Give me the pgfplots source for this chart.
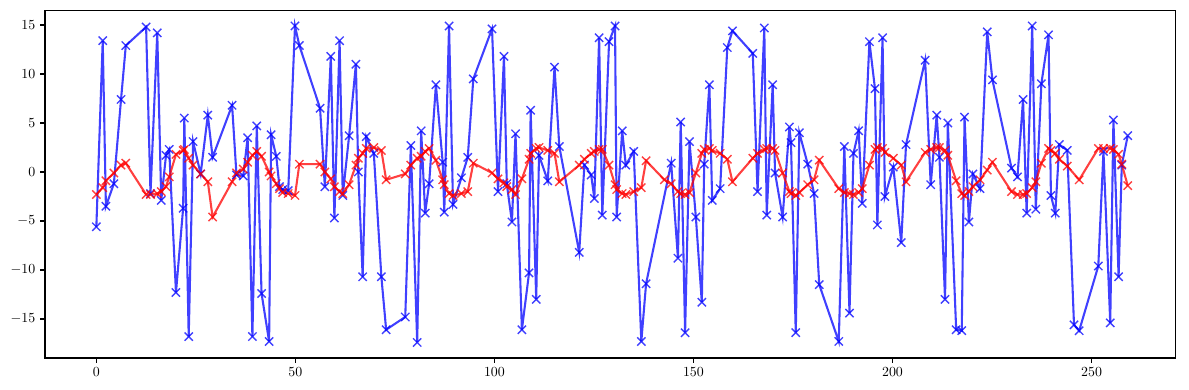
\documentclass[border=0pt]{standalone}
\usepackage{pgfplots}
\pgfplotsset{compat=1.18}
\begin{document}
\begin{tikzpicture}
\useasboundingbox (-32.4pt,-23pt) rectangle (823.6pt,257.7pt);
\begin{axis}[
  at={(0,0)}, anchor=south west,
  scale only axis, width=813.6pt, height=250pt,
  xmin=-12.9, xmax=271, ymin=-18.98, ymax=16.46,
  xtick={0,50,100,150,200,250},
  ytick={-15,-10,-5,0,5,10,15},
  tick align=outside, xtick pos=bottom, ytick pos=left,
  major tick length=3.5pt,
  every tick/.style={black, line width=0.8pt},
  axis line style={line width=0.8pt},
  tick label style={font=\fontsize{10}{12}\selectfont},
]
\addplot[color=blue, opacity=0.75, line width=1.5pt, mark=x, mark size=4.2pt, mark options={line width=1pt}] coordinates {
(0,-5.6) (1.6,13.4) (2.4,-3.5) (4.4,-1.2) (6.2,7.4) (7.4,12.9) (12.5,14.8) (13.6,-2.2) (15.3,14.2) (16.3,-2.9)
(17.5,1.7) (18.3,2.3) (20.0,-12.3) (21.8,-3.7) (22.1,5.5) (23.2,-16.8) (24.3,3.1) (26.2,-0.2) (28.0,5.8) (29.2,1.5)
(34.1,6.8) (35.2,-0.3) (36.9,-0.4) (38.0,3.5) (39.2,-16.8) (40.3,4.7) (41.5,-12.4) (43.4,-17.3) (43.9,3.8) (45.2,1.6)
(46.0,-1.5) (46.8,-1.8) (48.2,-1.9) (49.9,14.9) (51.0,12.9) (56.2,6.5) (57.4,-1.5) (58.9,11.8) (59.8,-4.7) (61.1,13.4)
(61.9,-2.4) (63.5,3.7) (65.2,11.0) (65.8,0.0) (66.9,-10.7) (67.8,3.6) (69.7,1.9) (71.6,-10.7) (72.8,-16.1) (77.6,-14.8)
(79.0,2.7) (80.6,-17.4) (81.6,4.2) (82.6,-4.2) (83.6,-1.2) (85.3,8.9) (87.0,1.0) (87.4,-4.1) (88.6,14.9) (89.6,-3.3)
(91.7,-0.6) (93.3,1.5) (94.7,9.5) (99.4,14.6) (100.9,-2.0) (102.4,11.8) (103.1,-1.2) (104.4,-5.1) (105.3,3.9) (106.9,-16.1)
(108.7,-10.3) (109.1,6.3) (110.5,-13.0) (111.2,1.7) (113.4,-0.9) (115.1,10.7) (116.3,2.6) (121.3,-8.2) (122.6,0.7) (124.3,-0.3)
(125.1,-2.7) (126.3,13.7) (127.1,-4.4) (128.8,13.3) (130.3,14.9) (130.7,-4.6) (132.1,4.2) (133.0,0.7) (135.0,2.1) (136.9,-17.3)
(138.1,-11.4) (144.4,0.9) (146.1,-8.8) (146.8,5.1) (147.9,-16.4) (149.0,3.1) (150.6,-4.6) (152.1,-13.3) (152.7,0.8)
(154.0,8.9) (154.7,-2.9) (156.7,-1.7) (158.5,12.7) (159.8,14.4) (164.9,12.1) (166.1,-2.0) (167.8,14.7) (168.4,-4.4) (169.9,8.9)
(170.5,-0.1) (172.4,-4.6) (174.1,4.6) (174.5,3.0) (175.7,-16.4) (176.6,4.0) (178.7,0.8) (180.3,-2.2) (181.6,-11.5) (186.5,-17.3)
(187.9,2.6) (189.2,-14.4) (190.2,1.9) (191.5,4.2) (192.4,-3.2) (194.2,13.3) (195.6,8.5) (196.2,-5.4) (197.5,13.7) (198.1,-2.5)
(200.2,0.5) (202.2,-7.2) (203.4,2.8) (208.2,11.4) (209.6,-1.3) (211.1,5.8) (211.8,1.5) (213.2,-13.0) (213.9,5.0) (216.0,-16.1)
(217.4,-16.2) (218.1,5.6) (219.2,-5.1) (220.2,-0.2) (222.0,-1.7) (223.8,14.3) (225.1,9.4) (229.9,0.4) (231.4,-0.5) (232.8,7.4)
(233.7,-4.2) (235.1,14.9) (236.0,-3.8) (237.4,9.0) (239.2,14.0) (239.8,-2.4) (240.9,-4.2) (241.9,2.8) (243.9,2.2) (245.6,-15.6)
(246.9,-16.2) (251.7,-9.6) (253.0,2.1) (254.7,-15.4) (255.5,5.3) (256.8,-10.7) (257.6,0.7) (259.1,3.7)
};
\addplot[color=red, opacity=0.75, line width=1.5pt, mark=x, mark size=4.2pt, mark options={line width=1pt}] coordinates {
(0,-2.3) (1.6,-1.6) (2.4,-0.9) (4.4,-0.1) (6.2,0.7) (7.4,0.9) (12.5,-2.3) (13.6,-2.3) (15.3,-2.2) (16.3,-2.0)
(17.5,-1.5) (18.3,-0.5) (20.0,1.8) (21.8,2.2) (22.1,2.3) (23.2,1.4) (24.3,0.7) (26.2,-0.2) (28.0,-1.0) (29.2,-4.6)
(34.1,-1.0) (35.2,-0.1) (36.9,0.3) (38.0,1.0) (39.2,1.7) (40.3,2.1) (41.5,1.6) (43.4,0.0) (43.9,-0.4) (45.2,-1.2)
(46.0,-1.7) (46.8,-2.1) (48.2,-2.2) (49.9,-2.4) (51.0,0.8) (56.2,0.8) (57.4,0.0) (58.9,-0.7) (59.8,-1.5) (61.1,-2.0)
(61.9,-2.2) (63.5,-1.3) (65.2,0.7) (65.8,1.4) (66.9,1.9) (67.8,2.4) (69.7,2.5) (71.6,2.2) (72.8,-0.8) (77.6,-0.2)
(79.0,0.7) (80.6,1.4) (81.6,1.6) (82.6,2.1) (83.6,2.4) (85.3,1.2) (87.0,-0.8) (87.4,-1.3) (88.6,-2.2) (89.6,-2.4)
(91.7,-2.2) (93.3,-2.0) (94.7,0.9) (99.4,-0.1) (100.9,-0.7) (102.4,-1.1) (103.1,-1.5) (104.4,-1.8) (105.3,-2.3) (106.9,-0.7)
(108.7,1.3) (109.1,1.9) (110.5,2.4) (111.2,2.5) (113.4,2.2) (115.1,1.9) (116.3,-1.0) (121.3,0.7) (122.6,1.3) (124.3,1.9)
(125.1,2.1) (126.3,2.3) (127.1,2.3) (128.8,0.7) (130.3,-1.3) (130.7,-1.8) (132.1,-2.2) (133.0,-2.3) (135.0,-2.0) (136.9,-1.6)
(138.1,1.15) (142.7,-0.8) (144.4,-1.2) (146.1,-2.0) (146.8,-2.2) (147.9,-2.3) (149.0,-2.1) (150.6,-0.1) (152.1,1.9) (152.7,2.3)
(154.0,2.4) (154.7,2.2) (156.7,1.9) (158.5,1.3) (159.8,-1.0) (164.9,1.4) (166.1,1.9) (167.8,2.3) (168.4,2.4) (169.9,2.4)
(170.5,2.2) (172.4,-0.1) (174.1,-2.0) (174.5,-2.2) (175.7,-2.4) (176.6,-2.1) (178.7,-1.3) (180.3,-0.8) (181.6,1.2) (186.5,-1.7)
(187.9,-2.1) (189.2,-2.2) (190.2,-2.3) (191.5,-2.1) (192.4,-1.7) (194.2,0.7) (195.6,2.3) (196.2,2.5) (197.5,2.4) (198.1,2.0)
(200.2,1.4) (202.2,0.7) (203.4,-1.0) (208.2,2.0) (209.6,2.3) (211.1,2.5) (211.8,2.5) (213.2,2.2) (213.9,1.7) (216.0,-0.9)
(217.4,-2.2) (218.1,-2.4) (219.2,-2.0) (220.2,-1.5) (222.0,-0.8) (223.8,0.2) (225.1,1.0) (229.9,-2.0) (231.4,-2.3) (232.8,-2.3)
(233.7,-2.2) (235.1,-1.6) (236.0,-1.0) (237.4,0.9) (239.2,2.4) (239.8,2.2) (240.9,1.9) (241.9,1.3) (243.9,0.6) (246.9,-0.8)
(251.7,2.4) (253.0,2.4) (254.7,2.4) (255.5,2.3) (256.8,1.8) (257.6,0.8) (259.1,-1.4)
};
\end{axis}
\end{tikzpicture}
\end{document}
